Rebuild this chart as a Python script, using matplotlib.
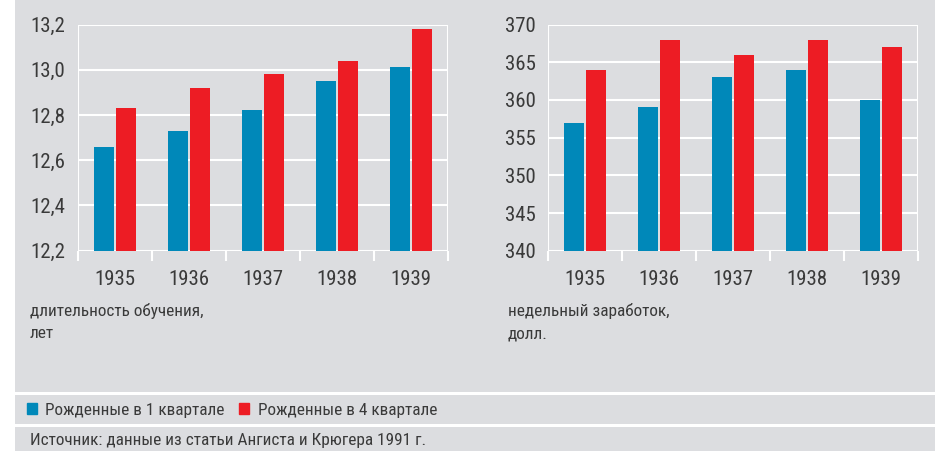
import matplotlib
matplotlib.use("Agg")
import matplotlib.pyplot as plt
import numpy as np
from matplotlib import font_manager
from matplotlib.patches import Rectangle, Patch

names = {f.name for f in font_manager.fontManager.ttflist}
family = "DejaVu Sans"
for cand in ["Roboto Condensed", "Liberation Sans Narrow", "DejaVu Sans Condensed", "Roboto"]:
    if cand in names:
        family = cand
        break
plt.rcParams["font.family"] = family

years = ["1935", "1936", "1937", "1938", "1939"]
school_q1 = [12.66, 12.73, 12.82, 12.95, 13.01]
school_q4 = [12.83, 12.92, 12.98, 13.04, 13.18]
wage_q1 = [357, 359, 363, 364, 360]
wage_q4 = [364, 368, 366, 368, 367]
school_ticks = [12.2, 12.4, 12.6, 12.8, 13.0, 13.2]
wage_ticks = [340, 345, 350, 355, 360, 365, 370]
label_q1 = "Рожденные в 1 квартале"
label_q4 = "Рожденные в 4 квартале"

BLUE = "#0088b9"
RED = "#ed1c24"
BG = "#dcdde0"
TXT = "#3a3a3a"
W, H = 935, 451

fig = plt.figure(figsize=(W / 100, H / 100), dpi=100)
fig.patch.set_facecolor("white")

def band(y0, y1):
    fig.patches.append(Rectangle((15 / W, 1 - y1 / H), 1 - 15 / W, (y1 - y0) / H,
                                 transform=fig.transFigure, facecolor=BG, edgecolor="none", zorder=-5))

band(0, 392)
band(395, 424)
band(427, 451)

def panel(left_px, q1, q4, ticks, fmt):
    ax = fig.add_axes([left_px / W, 1 - 250.7 / H, 370 / W, 226.2 / H])
    ax.set_facecolor("none")
    x = np.arange(len(years))
    w = 0.27
    ax.bar(x - 0.155, np.array(q1) - ticks[0], w, bottom=ticks[0], color=BLUE, zorder=3)
    ax.bar(x + 0.155, np.array(q4) - ticks[0], w, bottom=ticks[0], color=RED, zorder=3)
    ax.set_xlim(-0.5, len(years) - 0.5)
    ax.set_ylim(ticks[0], ticks[-1])
    ax.set_yticks(ticks)
    ax.set_yticklabels([fmt(t) for t in ticks])
    ax.grid(axis="y", color="white", linewidth=1.5, zorder=1)
    ax.set_axisbelow(True)
    for s in ["top", "right", "bottom", "left"]:
        ax.spines[s].set_visible(False)
    ax.set_xticks(x)
    ax.set_xticklabels(years)
    ax.set_xticks(np.arange(-0.5, len(years)), minor=True)
    ax.tick_params(axis="x", which="major", length=0, pad=14, labelsize=15, labelcolor=TXT)
    ax.tick_params(axis="x", which="minor", length=7, color="white", width=1.5)
    ax.tick_params(axis="y", length=0, pad=9, labelsize=15, labelcolor=TXT)
    for xv in [-0.5, len(years) - 0.5]:
        ax.axvline(xv, color="white", linewidth=1.5, zorder=1)
    return ax

panel(78, school_q1, school_q4, school_ticks, lambda t: f"{t:.1f}".replace(".", ","))
panel(548, wage_q1, wage_q4, wage_ticks, lambda t: f"{t:d}")

fig.text(30 / W, 1 - 322 / H, "длительность обучения,\nлет", fontsize=12.4, color=TXT,
         va="center", linespacing=1.6)
fig.text(508 / W, 1 - 322 / H, "недельный заработок,\nдолл.", fontsize=12.4, color=TXT,
         va="center", linespacing=1.6)

handles = [Patch(color=BLUE), Patch(color=RED)]
fig.legend(handles, [label_q1, label_q4], loc="center left",
           bbox_to_anchor=(11 / W, 1 - 410 / H), frameon=False, ncol=2,
           handlelength=0.6, handleheight=0.6, handletextpad=0.5, columnspacing=0.8,
           fontsize=12.4, labelcolor=TXT)
fig.text(30 / W, 1 - 440 / H, "Источник: данные из статьи Ангиста и Крюгера 1991 г.",
         fontsize=12.4, color=TXT, va="center")

fig.savefig("out.png", dpi=100)
